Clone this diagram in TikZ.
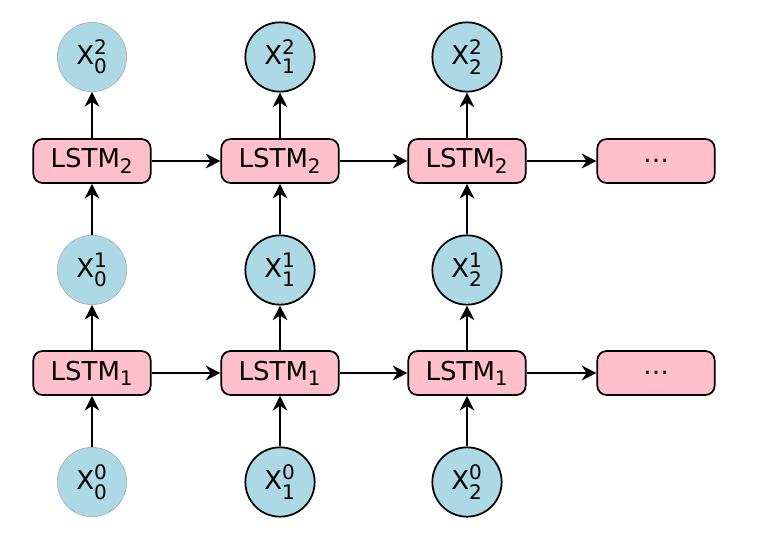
\documentclass[tikz,border=0pt]{standalone}
\usepackage{amsmath}
\usepackage{fontspec}
\setmainfont{DejaVu Sans}
\usetikzlibrary{arrows.meta}
\DeclareMathSizes{19.5}{19.5}{15}{12}
\definecolor{cellpink}{RGB}{255,192,203}
\definecolor{statblue}{RGB}{173,216,230}
\newcommand{\xs}[2]{X$^{\text{#2}}_{\text{#1}}$}
\newcommand{\lstm}[1]{LSTM$_{\text{#1}}$}

\begin{document}
\begin{tikzpicture}[x=0.75pt, y=-0.75pt,
    font=\fontsize{19.5}{23}\selectfont,
    cell/.style={draw, line width=1.3pt, fill=cellpink, rounded corners=7pt,
        minimum width=88pt, minimum height=33pt, inner sep=0pt},
    state/.style={draw, line width=1.3pt, fill=statblue, circle,
        minimum size=52pt, inner sep=0pt},
    faint/.style={draw=gray!70, line width=0.4pt},
    link/.style={line width=1.3pt, -{Stealth[length=11pt, width=11pt, inset=3.5pt]}}]
    \useasboundingbox (0,0) rectangle (764,542);

    % first column
    \node[state, faint] (x00) at (92,482) {\xs{0}{0}};
    \node[cell] (a1) at (92,373) {\lstm{1}};
    \node[state, faint] (x01) at (92,270) {\xs{0}{1}};
    \node[cell] (a2) at (92,161) {\lstm{2}};
    \node[state, faint] (x02) at (92,57) {\xs{0}{2}};

    % second column
    \node[state] (x10) at (280,482) {\xs{1}{0}};
    \node[cell] (b1) at (280,373) {\lstm{1}};
    \node[state] (x11) at (280,270) {\xs{1}{1}};
    \node[cell] (b2) at (280,161) {\lstm{2}};
    \node[state] (x12) at (280,57) {\xs{1}{2}};

    % third column
    \node[state] (x20) at (467,482) {\xs{2}{0}};
    \node[cell] (c1) at (467,373) {\lstm{1}};
    \node[state] (x21) at (467,270) {\xs{2}{1}};
    \node[cell] (c2) at (467,161) {\lstm{2}};
    \node[state] (x22) at (467,57) {\xs{2}{2}};

    % continuation
    \node[cell] (d1) at (656,373) {\dots};
    \node[cell] (d2) at (656,161) {\dots};

    \draw[link] (x00) -- (a1);
    \draw[link] (a1) -- (x01);
    \draw[link] (x01) -- (a2);
    \draw[link] (a2) -- (x02);
    \draw[link] (x10) -- (b1);
    \draw[link] (b1) -- (x11);
    \draw[link] (x11) -- (b2);
    \draw[link] (b2) -- (x12);
    \draw[link] (x20) -- (c1);
    \draw[link] (c1) -- (x21);
    \draw[link] (x21) -- (c2);
    \draw[link] (c2) -- (x22);

    \draw[link] (a1) -- (b1);
    \draw[link] (b1) -- (c1);
    \draw[link] (c1) -- (d1);
    \draw[link] (a2) -- (b2);
    \draw[link] (b2) -- (c2);
    \draw[link] (c2) -- (d2);
\end{tikzpicture}
\end{document}
